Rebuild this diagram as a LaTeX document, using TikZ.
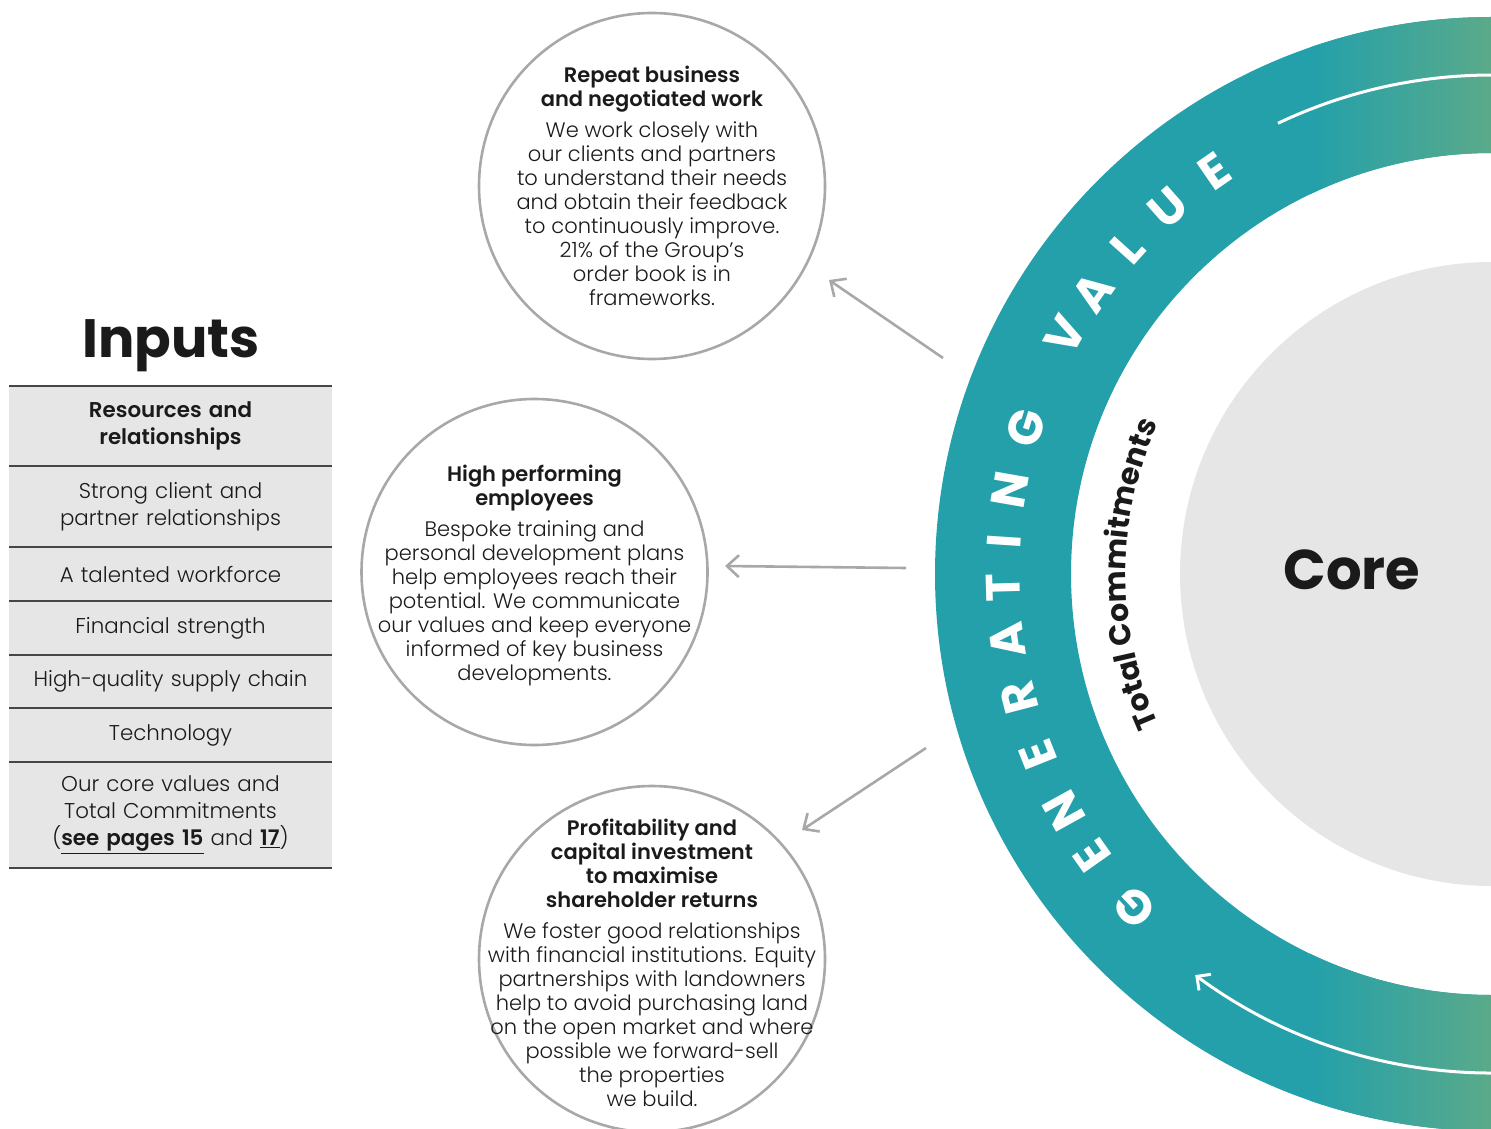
\documentclass[tikz,border=0pt]{standalone}
\usepackage{fontspec}
\setmainfont{Poppins}[UprightFont={* Light}, BoldFont={* SemiBold}]
\newfontfamily\heavyfont{Poppins}[UprightFont={* Bold}]
\usepackage{tikz}
\usetikzlibrary{positioning}
\usetikzlibrary{arrows.meta}
\usetikzlibrary{decorations.text}

\definecolor{ringteal}{RGB}{35,160,170}
\definecolor{ringgreen}{RGB}{90,170,138}
\definecolor{coregray}{RGB}{230,230,230}
\definecolor{edgegray}{RGB}{168,168,168}
\definecolor{inktext}{RGB}{26,26,26}
\definecolor{rulegray}{RGB}{70,70,70}

\tikzset{
  bubble/.style={circle, draw=edgegray, line width=1.3pt, minimum size=173pt, inner sep=0pt},
  bubbletext/.style={align=center, inner sep=0pt, text=inktext, font=\fontsize{10.5}{12}\selectfont},
  inputrow/.style={fill=coregray, minimum width=161.5pt, text width=158pt, align=center,
    inner sep=0pt, outer sep=0pt, text=inktext, font=\fontsize{10.7}{13.5}\selectfont},
  flow/.style={draw=edgegray, line width=1.3pt, -{Straight Barb[length=6pt, width=11pt]}},
  ringletter/.style={text=white, inner sep=0pt, font=\fontsize{24}{24}\selectfont\heavyfont},
}

\begin{document}
\begin{tikzpicture}[x=0.5pt, y=0.5pt]
  \useasboundingbox (0,0) rectangle (1491,-1128);
  \coordinate (hub) at (1492,-574);

  % ring
  \begin{scope}
    \clip (0,0) rectangle (1491,-1128);
    \fill[ringteal, even odd rule] (hub) circle (557) circle (421);
    \begin{scope}[even odd rule]
      \clip (hub) circle (557) circle (421);
      \shade[left color=ringteal, right color=ringgreen] (1310,0) rectangle (1491,-1128);
    \end{scope}
    \fill[coregray] (hub) circle (312);
    \draw[white, line width=1.5pt] (hub) ++(115.4:499) arc[start angle=115.4, end angle=80, radius=499];
    \draw[white, line width=1.5pt, {Straight Barb[length=5pt, width=10pt]}-]
      (hub) ++(233.5:499) arc[start angle=233.5, end angle=280, radius=499];
  \end{scope}

  \begin{scope}[shift={(hub)}]
    \foreach \ch/\ang [count=\i] in {G/223.0, E/215.2, N/209.0, E/201.7, R/194.7, A/187.8,
        T/181.6, I/176.2, N/170.1, G/162.6, V/150.8, A/144.8, L/138.1, U/131.5, E/124.6}
      \node[ringletter, rotate=\ang-90] (letter\i) at (\ang:489) {\ch};
  \end{scope}

  \path[decorate, decoration={text along path, text align=center, text color=inktext,
      text={|\fontsize{15}{15}\selectfont\heavyfont|Total Commitments}}]
    (hub) ++(215:366) arc[start angle=215, end angle=145, radius=366];

  \node[text=inktext, font=\fontsize{28}{28}\selectfont\heavyfont] (core) at (1352,-570) {Core};

  % inputs
  \node[text=inktext, font=\fontsize{27}{27}\selectfont\heavyfont] (inputs) at (171,-346) {Inputs};
  \node[inputrow, minimum height=40pt, font=\fontsize{10.7}{13.5}\selectfont\bfseries] (res) at (170.5,-426)
    {Resources and\\relationships};
  \node[inputrow, minimum height=40.5pt, below=0pt of res] (client) {Strong client and\\partner relationships};
  \node[inputrow, minimum height=27pt, below=0pt of client] (talent) {A talented workforce};
  \node[inputrow, minimum height=27pt, below=0pt of talent] (finance) {Financial strength};
  \node[inputrow, minimum height=26.5pt, below=0pt of finance] (supply) {High-quality supply chain};
  \node[inputrow, minimum height=27pt, below=0pt of supply] (tech) {Technology};
  \node[inputrow, minimum height=53pt, below=0pt of tech] (values)
    {Our core values and\\Total Commitments\\(\underline{\textbf{see pages 15}} and \underline{\textbf{17}})};
  \draw[rulegray, line width=0.6pt] (res.north west) -- (res.north east);
  \foreach \row in {res, client, talent, finance, supply, tech, values}
    \draw[rulegray, line width=0.6pt] (\row.south west) -- (\row.south east);

  % outputs
  \node[bubble] (repeat) at (652,-186) {};
  \node[bubbletext] (repeattext) at (repeat.center) {\textbf{Repeat business}\\\textbf{and negotiated work}\\[3.5pt]
    We work closely with\\our clients and partners\\to understand their needs\\and obtain their feedback\\
    to continuously improve.\\21\% of the Group’s\\order book is in\\frameworks.};
  \node[bubble] (people) at (534.5,-572) {};
  \node[bubbletext] (peopletext) at ([yshift=-1.5pt]people.center) {\textbf{High performing}\\\textbf{employees}\\[3.5pt]
    Bespoke training and\\personal development plans\\help employees reach their\\potential. We communicate\\
    our values and keep everyone\\informed of key business\\developments.};
  \node[bubble] (profit) at (652,-959) {};
  \node[bubbletext] (profittext) at ([yshift=-2pt]profit.center) {\textbf{Profitability and}\\\textbf{capital investment}\\
    \textbf{to maximise}\\\textbf{shareholder returns}\\[3.5pt]
    We foster good relationships\\with financial institutions. Equity\\partnerships with landowners\\
    help to avoid purchasing land\\on the open market and where\\possible we forward-sell\\the properties\\we build.};

  % arrows
  \coordinate (tail1) at (943,-358);
  \coordinate (head1) at (829,-280);
  \coordinate (tail2) at (906,-568);
  \coordinate (head2) at (725,-566);
  \coordinate (tail3) at (926,-748);
  \coordinate (head3) at (802,-830);
  \draw[flow] (tail1) -- (head1);
  \draw[flow] (tail2) -- (head2);
  \draw[flow] (tail3) -- (head3);
\end{tikzpicture}
\end{document}
